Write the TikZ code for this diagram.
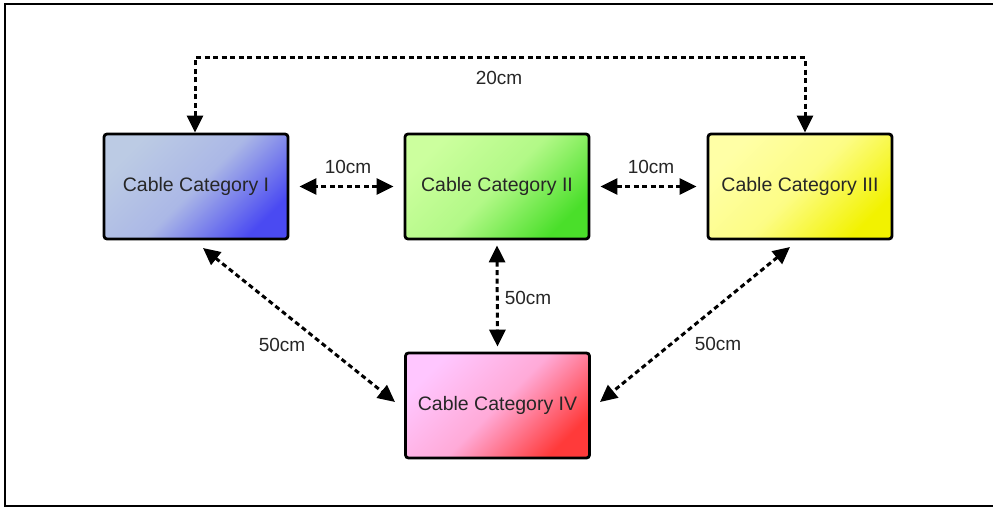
\documentclass[tikz,border=0pt]{standalone}
\usepackage{fontspec}
\setmainfont{Liberation Sans}
\usetikzlibrary{arrows.meta}
\definecolor{blueA}{HTML}{BCCBE4}
\definecolor{blueB}{HTML}{4A4AF2}
\definecolor{greenA}{HTML}{CCFF9E}
\definecolor{greenB}{HTML}{4ADF2A}
\definecolor{yelA}{HTML}{FFFFA6}
\definecolor{yelB}{HTML}{F2F200}
\definecolor{pinkA}{HTML}{FFC6FF}
\definecolor{pinkB}{HTML}{FF3A3A}
\begin{document}
\begin{tikzpicture}[x=1pt,y=-1pt,
  catbox/.style={draw=black, line width=2.8pt, rounded corners=3pt,
    minimum width=184pt, minimum height=105pt, inner sep=0pt,
    font=\fontsize{19.5}{23}\selectfont, text=black!85, shading angle=45},
  link/.style={line width=3pt, dash pattern=on 5pt off 3.5pt,
    {Triangle[length=17pt,width=16pt]}-{Triangle[length=17pt,width=16pt]}},
  dim/.style={font=\fontsize{19}{22}\selectfont, text=black!85}]
\useasboundingbox (0,0) rectangle (993,508);
\fill[white] (0,0) rectangle (993,508);
% frame
\draw[line width=2pt, black] (999,4.5) -- (4.5,4.5) -- (4.5,505.5) -- (999,505.5);
% boxes
\node[catbox, top color=blueA, bottom color=blueB, middle color=blueA!85!blueB, shading angle=45] (c1) at (196,186.5) {Cable Category I};
\node[catbox, top color=greenA, bottom color=greenB, middle color=greenA!80!greenB, shading angle=45] (c2) at (497,186.5) {Cable Category II};
\node[catbox, top color=yelA, bottom color=yelB, middle color=yelA!80!yelB, shading angle=45] (c3) at (800,186.5) {Cable Category III};
\node[catbox, top color=pinkA, bottom color=pinkB, middle color=pinkA!80!pinkB, shading angle=45] (c4) at (497.5,405.5) {Cable Category IV};
% coordinates
\coordinate (t1) at (195,58);
\coordinate (t2) at (805,58);
% connectors
\draw[link] (c1.north -| t1) -- (t1) -- (t2) -- (c3.north -| t2);
\draw[link] ([xshift=-10pt]c2.west) -- ([xshift=10pt]c1.east);
\draw[link] ([xshift=10pt]c2.east) -- ([xshift=-10pt]c3.west);
\draw[link] ([yshift=-5pt]c2.south) -- ([yshift=5pt]c4.north);
\coordinate (d1) at (203,248);
\coordinate (d2) at (395,402);
\coordinate (d3) at (790,247);
\coordinate (d4) at (600,402);
\draw[link] (d1) -- (d2);
\draw[link] (d3) -- (d4);
% labels
\node[dim] (l20) at (499,78) {20cm};
\node[dim] (l10a) at (348,167) {10cm};
\node[dim] (l10b) at (651,167) {10cm};
\node[dim] (l50a) at (528,298) {50cm};
\node[dim] (l50b) at (282,345) {50cm};
\node[dim] (l50c) at (718,344) {50cm};
\end{tikzpicture}
\end{document}
